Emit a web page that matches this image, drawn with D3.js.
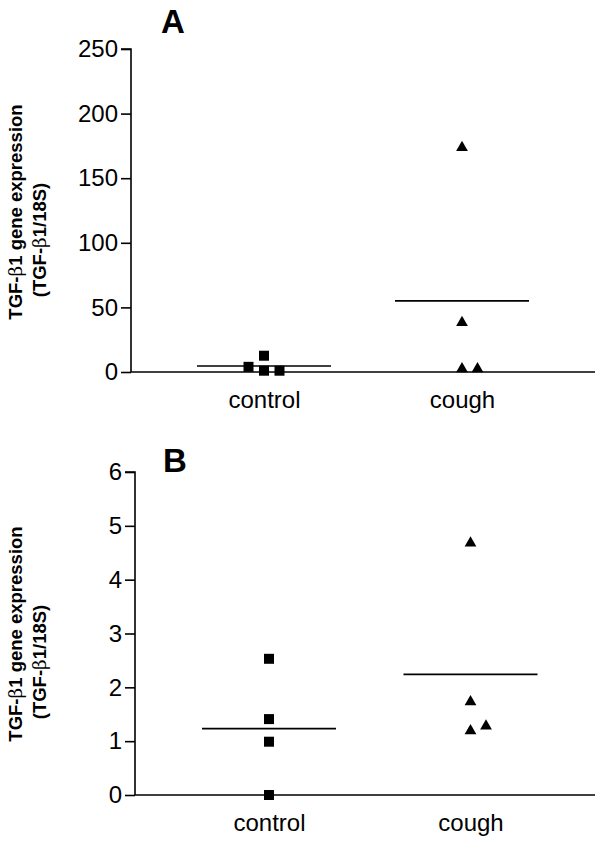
<!DOCTYPE html>
<html><head><meta charset="utf-8">
<script src="https://cdn.jsdelivr.net/npm/d3@7"></script>
<style>
html,body{margin:0;padding:0;background:#fff;}
svg{display:block;font-family:"Liberation Sans",Arial,sans-serif;}
</style></head>
<body>
<svg id="chart" width="600" height="852"></svg>
<script>
// ---- data ----
const categories = ["control", "cough"];
const panelLabels = ["A", "B"];
// Panel A values (TGF-β1/18S)
const controlA = [4, 12.6, 1, 1];
const coughA = [174.5, 39, 3.3, 3.3];
// Panel B values
const controlB = [2.53, 1.41, 0.99, 0];
const coughB = [4.70, 1.75, 1.21, 1.30];
const ticksA = [0, 50, 100, 150, 200, 250];
const ticksB = [0, 1, 2, 3, 4, 5, 6];
const yLabelLine1 = ["TGF-", "β", "1 gene expression"];
const yLabelLine2 = ["(TGF-", "β", "1/18S)"];

const svg = d3.select("#chart");

const panels = [
  {label: panelLabels[0], series: [controlA, coughA], ticks: ticksA, domain: [0, 250],
   axisX: 131, top: 49, bottom: 372, cx: [264, 462], labelY: [212, 240], letterX: 161, letterY: 33},
  {label: panelLabels[1], series: [controlB, coughB], ticks: ticksB, domain: [0, 6],
   axisX: 135, top: 472, bottom: 795, cx: [269, 470.5], labelY: [634, 662], letterX: 163, letterY: 472}
];
const axisRight = 595;
const shapes = [d3.symbolSquare, d3.symbolTriangle];
const shapeSizes = [100, 60];

panels.forEach(p => {
  const g = svg.append("g");
  const y = d3.scaleLinear().domain(p.domain).range([p.bottom, p.top]);
  const x = d3.scalePoint().domain(categories).range(p.cx);

  // y axis
  const yAxis = d3.axisLeft(y).tickValues(p.ticks).tickSize(10).tickPadding(3).tickFormat(d3.format("d"));
  const ya = g.append("g").attr("transform", `translate(${p.axisX},0)`).call(yAxis);
  ya.select(".domain").attr("stroke", "#000").attr("stroke-width", 1.6).attr("d", `M-10,${p.top}H0V${p.bottom}`);
  ya.selectAll(".tick line").attr("stroke", "#000").attr("stroke-width", 1.6);
  ya.selectAll(".tick text").attr("font-size", 24).attr("fill", "#000")
    .attr("font-family", "'Liberation Sans',Arial,sans-serif");

  // x axis
  const xAxis = d3.axisBottom(x).tickSize(0).tickPadding(19);
  const xa = g.append("g").attr("transform", `translate(0,${p.bottom})`).call(xAxis);
  xa.select(".domain").attr("stroke", "#000").attr("stroke-width", 1.6).attr("d", `M${p.axisX},0H${axisRight}`);
  xa.selectAll(".tick text").attr("font-size", 24).attr("fill", "#000")
    .attr("font-family", "'Liberation Sans',Arial,sans-serif");

  // points with simple dodge
  const step = 15.5, thresh = 10;
  p.series.forEach((vals, si) => {
    const cat = categories[si];
    const pts = vals.map((v, i) => ({v, i})).sort((a, b) => a.v - b.v || a.i - b.i);
    const placed = [];
    pts.forEach(pt => {
      const py = y(pt.v);
      for (const k of [0, 1, -1, 2, -2]) {
        const clash = placed.some(q => q.k === k && Math.abs(q.py - py) < thresh);
        if (!clash) { placed.push({k, py, v: pt.v}); break; }
      }
    });
    const sym = d3.symbol().type(shapes[si]).size(shapeSizes[si]);
    g.selectAll(null).data(placed).enter().append("path")
      .attr("d", sym)
      .attr("transform", d => `translate(${x(cat) + d.k * step},${d.py + (si === 1 ? 1 : 0)})`)
      .attr("fill", "#000");
    // mean line
    const m = d3.mean(vals);
    g.append("line")
      .attr("x1", x(cat) - 67).attr("x2", x(cat) + 67)
      .attr("y1", y(m)).attr("y2", y(m))
      .attr("stroke", "#000").attr("stroke-width", 1.6);
  });

  // panel letter
  g.append("text").attr("x", p.letterX).attr("y", p.letterY)
    .attr("font-size", 33).attr("font-weight", "bold").attr("fill", "#000").text(p.label);

  // y label
  const lines = [yLabelLine1, yLabelLine2];
  const lineX = [22, 46];
  lines.forEach((parts, li) => {
    const t = g.append("text")
      .attr("transform", `translate(${lineX[li]},${p.labelY[li]}) rotate(-90)`)
      .attr("text-anchor", "middle").attr("font-size", 18.5).attr("font-weight", "bold").attr("fill", "#000");
    parts.forEach((s, k) => {
      const ts = t.append("tspan").text(s);
      if (k === 1) ts.attr("font-weight", "normal").attr("font-family", "'DejaVu Serif',serif");
    });
  });
});
</script>
</body></html>
